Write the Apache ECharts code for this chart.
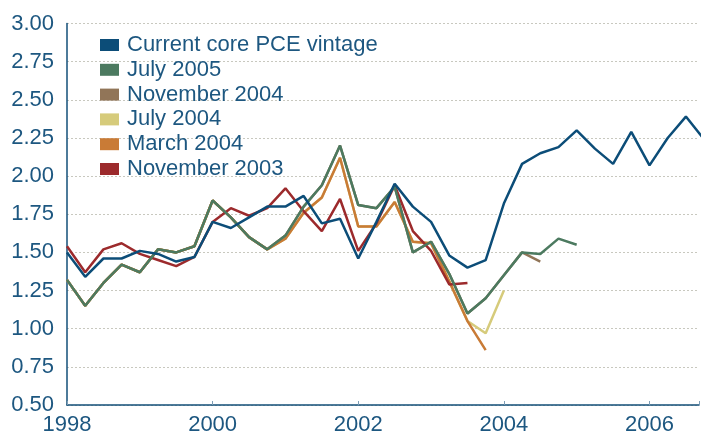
<!DOCTYPE html>
<html>
<head>
<meta charset="utf-8">
<script src="https://cdn.jsdelivr.net/npm/echarts@6/dist/echarts.min.js"></script>
<style>
  html, body { margin: 0; padding: 0; background: #fff; }
  #chart { width: 702px; height: 436px; }
</style>
</head>
<body>
<div id="chart"></div>
<script>
// quarterly values, first point = 1998 Q1
const startYear = 1998
const seriesNames = ['Current core PCE vintage', 'July 2005', 'November 2004', 'July 2004', 'March 2004', 'November 2003']

const current = [
  1.50, 1.34, 1.46, 1.46,
  1.51, 1.49, 1.44, 1.47,
  1.70, 1.66, 1.73, 1.80,
  1.80, 1.87, 1.69, 1.72,
  1.46, 1.70, 1.95, 1.80,
  1.70, 1.48, 1.40, 1.45,
  1.82, 2.08, 2.15, 2.19,
  2.30, 2.18, 2.08, 2.29,
  2.07, 2.25, 2.39, 2.24
]
const july2005 = [
  1.32, 1.15, 1.30, 1.42,
  1.37, 1.52, 1.50, 1.54,
  1.84, 1.73, 1.60, 1.52,
  1.61, 1.80, 1.94, 2.20,
  1.81, 1.79, 1.93, 1.50,
  1.57, 1.36, 1.10, 1.20,
  1.35, 1.50, 1.49, 1.59,
  1.55
]
const nov2004 = [
  1.32, 1.15, 1.30, 1.42,
  1.37, 1.52, 1.50, 1.54,
  1.84, 1.73, 1.60, 1.52,
  1.61, 1.80, 1.94, 2.20,
  1.81, 1.79, 1.93, 1.50,
  1.57, 1.36, 1.10, 1.20,
  1.35, 1.50, 1.44
]
const july2004 = [
  1.32, 1.15, 1.30, 1.42,
  1.37, 1.52, 1.50, 1.54,
  1.84, 1.73, 1.60, 1.52,
  1.59, 1.76, 1.86, 2.12,
  1.67, 1.67, 1.83, 1.57,
  1.56, 1.31, 1.05, 0.97,
  1.25
]
const march2004 = [
  1.32, 1.15, 1.30, 1.42,
  1.37, 1.52, 1.50, 1.54,
  1.84, 1.73, 1.60, 1.52,
  1.59, 1.76, 1.86, 2.12,
  1.67, 1.67, 1.83, 1.57,
  1.56, 1.31, 1.05, 0.86
]
const nov2003 = [
  1.54, 1.37, 1.52, 1.56,
  1.49, 1.45, 1.41, 1.47,
  1.70, 1.79, 1.74, 1.79,
  1.92, 1.77, 1.64, 1.85,
  1.51, 1.69, 1.94, 1.64,
  1.51, 1.29, 1.30
]
const yearTicks = [1998, 2000, 2002, 2004, 2006]

const colors = {
  'Current core PCE vintage': '#0c4d78',
  'July 2005': '#4c7a60',
  'November 2004': '#917558',
  'July 2004': '#d6cb7b',
  'March 2004': '#c97b36',
  'November 2003': '#9c2a2c'
}

const toPairs = arr => arr.map((v, i) => [startYear + i * 0.25, v])

// drawing order: later ones sit on top
const drawOrder = [
  ['July 2004', july2004],
  ['November 2004', nov2004],
  ['March 2004', march2004],
  ['November 2003', nov2003],
  ['July 2005', july2005],
  ['Current core PCE vintage', current]
]

const textColor = '#1d5780'
const axisColor = '#134f78'
const font = 'Liberation Sans, Arial, sans-serif'

let myChart = echarts.init(document.getElementById('chart'))

const option = {
  animation: false,
  grid: { left: 67, right: 0, top: 23.5, bottom: 31 },
  legend: {
    data: seriesNames,
    orient: 'vertical',
    left: 95,
    top: 29,
    itemWidth: 19,
    itemHeight: 12,
    itemGap: 2.8,
    icon: 'rect',
    textStyle: {
      color: textColor,
      fontSize: 22,
      lineHeight: 20,
      fontFamily: font,
      padding: [0, 0, 0, 3]
    }
  },
  xAxis: {
    type: 'value',
    min: 1998,
    max: 2006.68,
    interval: 2,
    axisLine: { lineStyle: { color: axisColor, width: 1.5 } },
    axisTick: { inside: true, length: 4, lineStyle: { color: '#7d9db5' } },
    splitLine: { show: false },
    axisLabel: {
      color: textColor,
      fontSize: 22,
      margin: 9,
      fontFamily: font,
      formatter: v => yearTicks.includes(Math.round(v * 100) / 100) ? String(v) : ''
    }
  },
  yAxis: {
    type: 'value',
    min: 0.5,
    max: 3,
    interval: 0.25,
    axisLine: { show: true, lineStyle: { color: axisColor, width: 1.5 } },
    axisTick: { show: false },
    splitLine: { lineStyle: { color: '#c8c8bf', type: [2, 2], width: 1 } },
    axisLabel: {
      color: textColor,
      fontSize: 22,
      margin: 13,
      fontFamily: font,
      formatter: v => v.toFixed(2)
    }
  },
  series: drawOrder.map(([name, arr]) => ({
    name: name,
    type: 'line',
    data: toPairs(arr),
    symbol: 'none',
    clip: true,
    itemStyle: { color: colors[name] },
    lineStyle: { color: colors[name], width: 2.5 }
  }))
}
myChart.setOption(option)
</script>
</body>
</html>
